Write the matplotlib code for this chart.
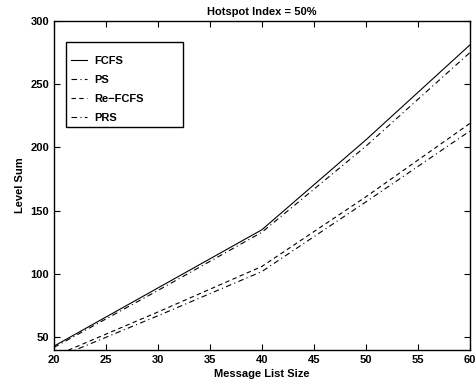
import matplotlib.pyplot as plt
from matplotlib.patches import Rectangle

plt.rcParams['font.family'] = ['Liberation Sans', 'DejaVu Sans']
plt.rcParams['font.weight'] = 'bold'

# data
msg_size = [20, 30, 40, 50, 60]
fcfs = [43, 89, 135, 206, 281]
ps = [42, 87, 133, 201, 275]
re_fcfs = [35, 70, 106, 161, 219]
prs = [33, 67, 102, 157, 213]

fig = plt.figure(figsize=(4.77, 3.88), dpi=100)
ax = fig.add_axes([0.113, 0.098, 0.872, 0.848])

lw = 0.8
ax.plot(msg_size, fcfs, color='black', linestyle='-', linewidth=lw, label='FCFS')
ax.plot(msg_size, ps, color='black', linestyle=(0, (5, 3, 1, 3)), linewidth=lw, label='PS')
ax.plot(msg_size, re_fcfs, color='black', linestyle=(0, (4, 3)), linewidth=lw, label='Re\u2212FCFS')
ax.plot(msg_size, prs, color='black', linestyle=(0, (5, 3, 1, 3)), linewidth=lw, label='PRS')

ax.set_xlim(20, 60)
ax.set_ylim(40, 300)
ax.set_xticks(range(20, 61, 5))
ax.set_yticks(range(50, 301, 50))
ax.tick_params(direction='in', top=True, right=True, labelsize=8, length=4, width=0.8)
for lab in ax.get_xticklabels() + ax.get_yticklabels():
    lab.set_fontweight('bold')
for sp in ax.spines.values():
    sp.set_linewidth(1.0)

ax.set_xlabel('Message List Size', fontsize=8, fontweight='bold', labelpad=3)
ax.set_ylabel('Level Sum', fontsize=8, fontweight='bold', labelpad=4)
ax.set_title('Hotspot Index = 50%', fontsize=8, fontweight='bold', pad=4)

# MATLAB-style legend box: fixed frame drawn separately, entries inside
box = Rectangle((0.029, 0.678), 0.281, 0.258, transform=ax.transAxes,
                facecolor='white', edgecolor='black', linewidth=1.0, zorder=4)
ax.add_patch(box)
leg = ax.legend(loc='upper left', bbox_to_anchor=(0.042, 0.893), borderaxespad=0,
                borderpad=0, frameon=False, handlelength=1.4, handletextpad=0.7,
                labelspacing=0.8, prop={'weight': 'bold', 'size': 8})
leg.set_zorder(5)

fig.savefig('out.png', dpi=100)
